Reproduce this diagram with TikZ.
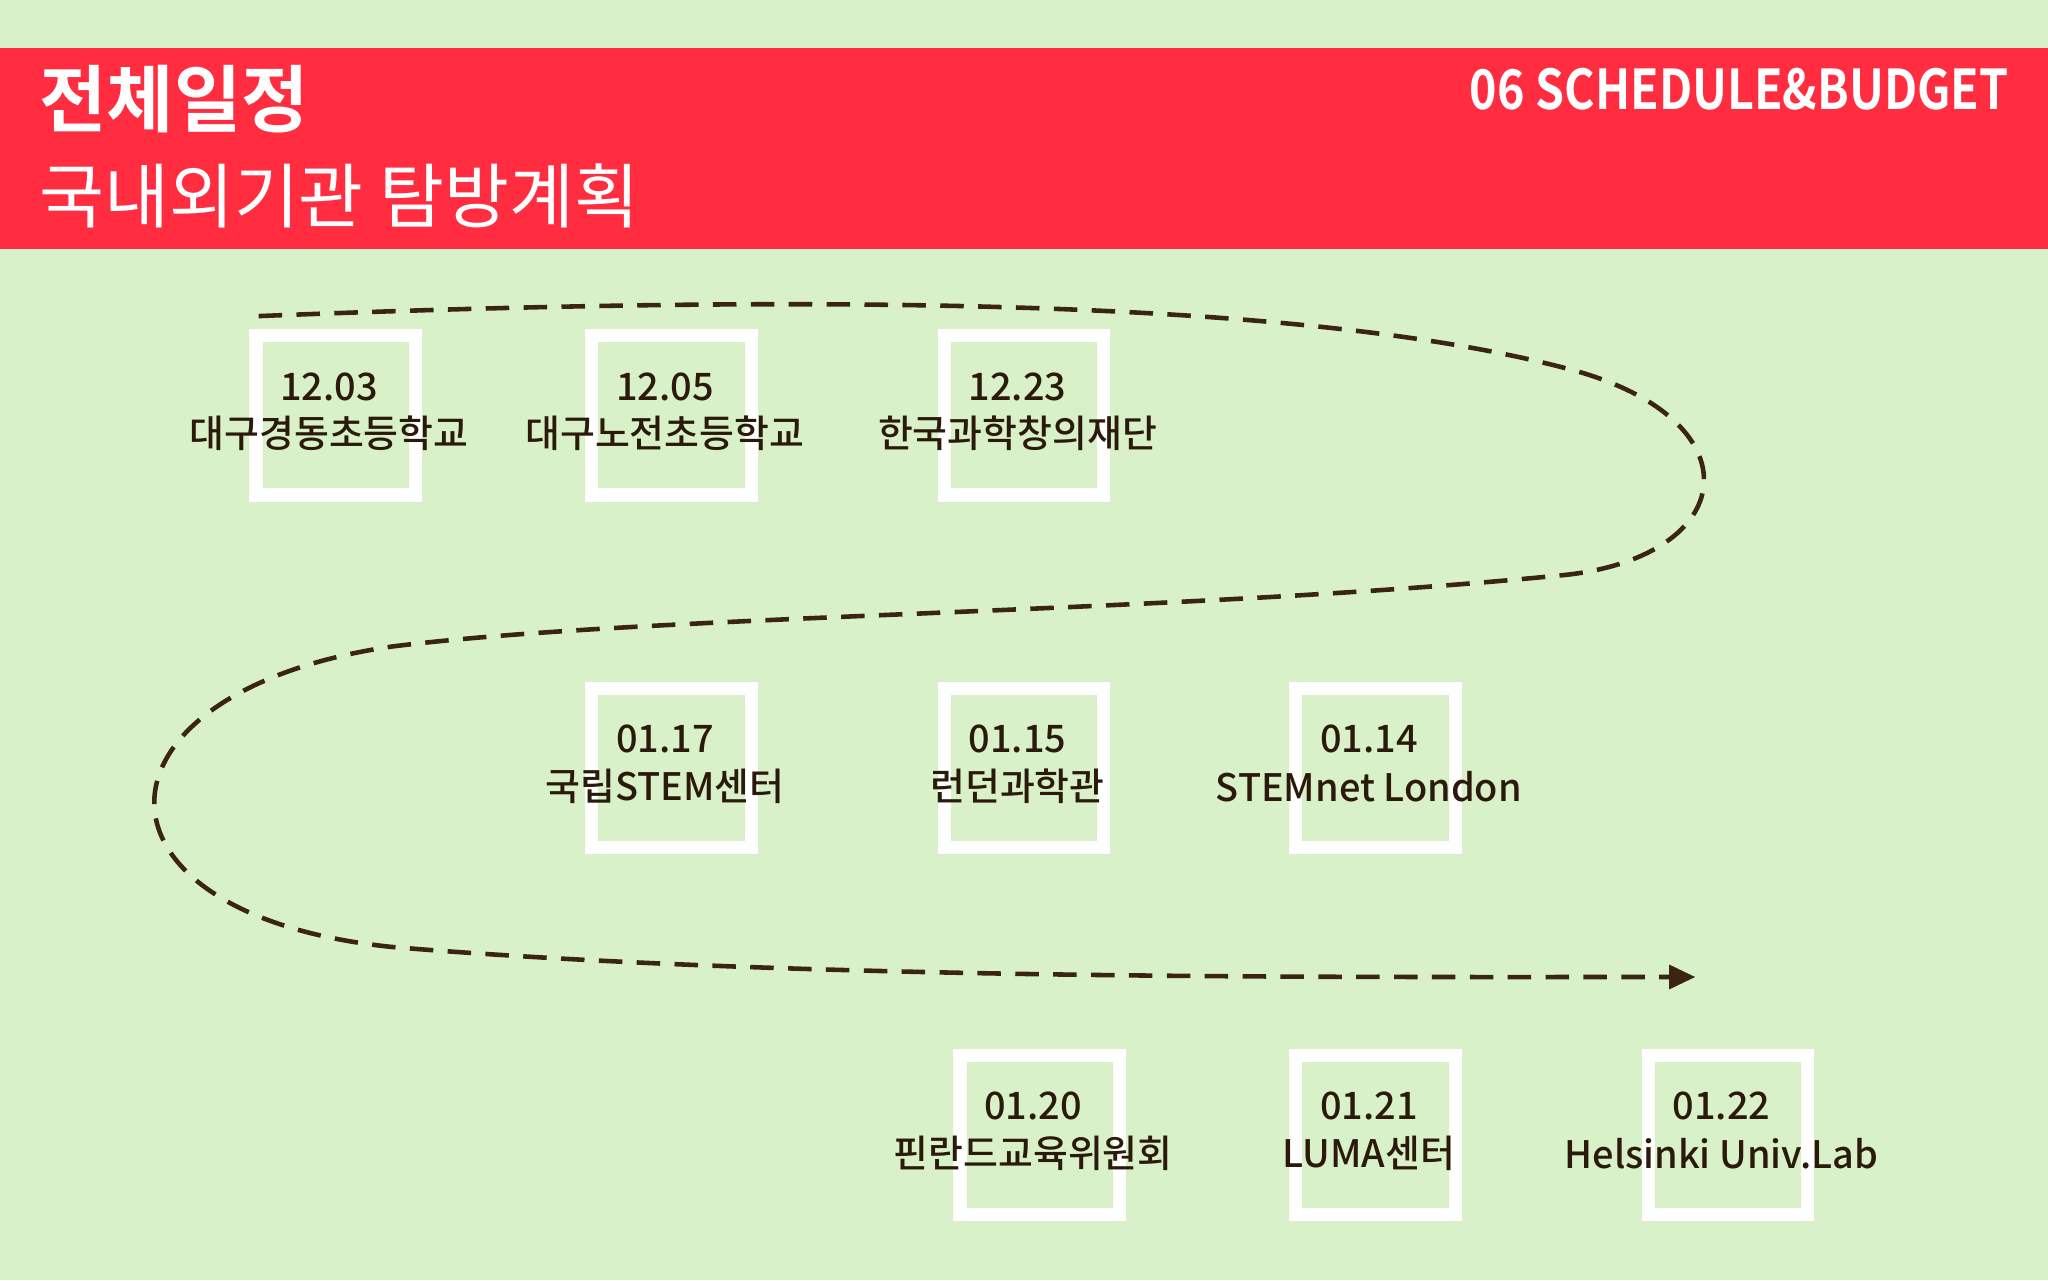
\documentclass[tikz,border=0pt]{standalone}
\usepackage{fontspec}
\setmainfont{Noto Sans CJK KR Medium}
\newfontfamily\krbold{Noto Sans CJK KR Bold}
\newfontfamily\krreg{Noto Sans CJK KR}
\usetikzlibrary{arrows.meta}
\definecolor{bg}{HTML}{D9F1C8}
\definecolor{band}{HTML}{FF2D3F}
\definecolor{ink}{HTML}{2B1A0C}
\definecolor{pathc}{HTML}{3B2413}
\tikzset{
  box/.style={draw=white,line width=10pt,minimum width=122pt,minimum height=122pt,inner sep=0pt},
  lbl/.style={text=ink,font=\fontsize{29}{34}\selectfont,align=center,inner sep=0pt},
  route/.style={draw=pathc,line width=3.5pt,dash pattern=on 18pt off 11pt}
}
\begin{document}
\begin{tikzpicture}[x=1pt,y=-1pt]
\fill[bg] (0,0) rectangle (1568,980);
\useasboundingbox (0,0) rectangle (1568,980);
\fill[band] (0,37) rectangle (1568,191);
\node[anchor=west,text=white,inner sep=0pt,font=\krbold\fontsize{56}{60}\selectfont] (t1) at (30,76) {전체일정};
\node[anchor=west,text=white,inner sep=0pt,font=\krreg\fontsize{54}{60}\selectfont] (t2) at (30,150) {국내외기관 탐방계획};
\node[anchor=east,text=white,inner sep=0pt,xscale=0.85,font=\krbold\fontsize{42}{46}\selectfont] (t3) at (1538,68) {06 SCHEDULE\&BUDGET};

\draw[route,-{Triangle[length=20pt,width=18pt]}]
 (198,242) .. controls (600,226) and (1000,226) .. (1210,285)
 .. controls (1345,325) and (1330,425) .. (1200,440)
 .. controls (900,470) and (500,470) .. (300,495)
 .. controls (60,530) and (55,700) .. (300,725)
 .. controls (600,750) and (1000,748) .. (1298,748);

\foreach \n/\x/\y/\d/\t in {
 a/257/318/12.03/대구경동초등학교,
 b/514/318/12.05/대구노전초등학교,
 c/784/318/12.23/한국과학창의재단,
 d/514/588/01.17/국립STEM센터,
 e/784/588/01.15/런던과학관,
 f/1053/588/01.14/STEMnet London,
 g/796/869/01.20/핀란드교육위원회,
 h/1053/869/01.21/LUMA센터,
 i/1323/869/01.22/Helsinki Univ.Lab}{
 \node[box] (\n) at (\x,\y) {};
 \node[lbl] (\n d) at (\x-5,\y-22) {\d};
 \node[lbl] (\n t) at (\x-5,\y+14) {\t};
}
\end{tikzpicture}
\end{document}
